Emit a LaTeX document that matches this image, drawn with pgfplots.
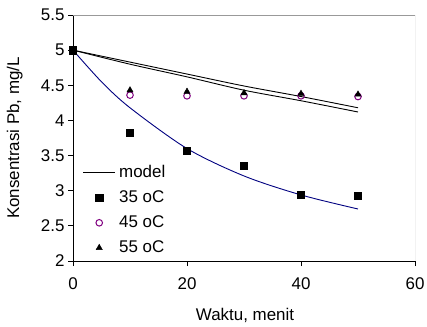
\documentclass[border=0pt]{standalone}
\usepackage{pgfplots}
\pgfplotsset{compat=1.18}
\usepackage{fontspec}
\setmainfont{Liberation Sans}
\definecolor{navyc}{HTML}{000080}
\definecolor{purp}{HTML}{800080}
\pgfplotsset{
  linelegend/.style={legend image code/.code={\draw[##1] (0bp,0bp) -- (32bp,0bp);}},
  marklegend/.style={legend image code/.code={\draw[##1] plot coordinates {(16bp,0bp)};}},
}
\begin{document}
\begin{tikzpicture}
\begin{axis}[
  name=ax,
  scale only axis, width=342bp, height=246bp,
  xmin=0, xmax=60, ymin=2, ymax=5.5,
  xtick={0,20,40,60}, ytick={2,2.5,3,3.5,4,4.5,5,5.5},
  yticklabels={2,2.5,3,3.5,4,4.5,5,5.5},
  xticklabels={0,20,40,60},
  axis x line*=bottom, axis y line*=left,
  axis line style={-, black, line width=0.8bp},
  tick align=outside, major tick length=5bp,
  tick style={black, line width=0.8bp},
  ticklabel style={font=\fontsize{17}{19}\selectfont},
  xticklabel style={yshift=-8bp},
  yticklabel style={xshift=0bp},
  xlabel={Waktu, menit}, ylabel={Konsentrasi Pb, mg/L},
  label style={font=\fontsize{17}{19}\selectfont},
  xlabel style={at={(axis description cs:0.503,-0.222)}, anchor=center},
  ylabel style={at={(axis description cs:-0.17,0.5)}, anchor=center},
  legend style={draw=none, fill=none, inner sep=0pt, at={(rel axis cs:0.028,0.398)}, anchor=north west,
    font=\fontsize{17}{19}\selectfont, row sep=6bp, column sep=2bp,
    nodes={inner sep=1.5bp, text height=12.5bp, text depth=3.5bp}},
  legend cell align=left,
]
\addplot[black, line width=0.9bp, smooth, linelegend]
  coordinates {(0,5) (10,4.83) (20,4.66) (30,4.49) (40,4.34) (50,4.18)};
\addlegendentry{model}
\addplot[only marks, mark=square*, mark size=3.6bp, black, marklegend]
  coordinates {(10,3.83) (20,3.57) (30,3.36) (40,2.94) (50,2.93)};
\addlegendentry{35 oC}
\addplot[only marks, mark=o, mark size=3.3bp, purp, line width=1bp, marklegend]
  coordinates {(0,5) (10,4.36) (20,4.35) (30,4.35) (40,4.35) (50,4.34)};
\addlegendentry{45 oC}
\addplot[only marks, mark=triangle*, mark size=3.6bp, black, marklegend]
  coordinates {(10,4.43) (20,4.41) (30,4.39) (40,4.38) (50,4.37)};
\addlegendentry{55 oC}
\addplot[black, line width=0.9bp, smooth, forget plot] coordinates {(0,5) (10,4.80) (20,4.62) (30,4.43) (40,4.28) (50,4.12)};
\addplot[navyc, line width=0.9bp, smooth, forget plot] coordinates {(0,5) (5,4.55) (10,4.18) (20,3.60) (30,3.21) (40,2.94) (50,2.74)};
\addplot[only marks, mark=square*, mark size=3.6bp, black, forget plot] coordinates {(0,5)};
\draw[gray!80, line width=0.8bp] (rel axis cs:0,1) -- (rel axis cs:1,1) -- (rel axis cs:1,0);
\end{axis}
\pgfresetboundingbox
\path ([xshift=-73bp,yshift=-65bp]ax.south west) rectangle ([xshift=12bp,yshift=15bp]ax.north east);
\end{tikzpicture}
\end{document}
